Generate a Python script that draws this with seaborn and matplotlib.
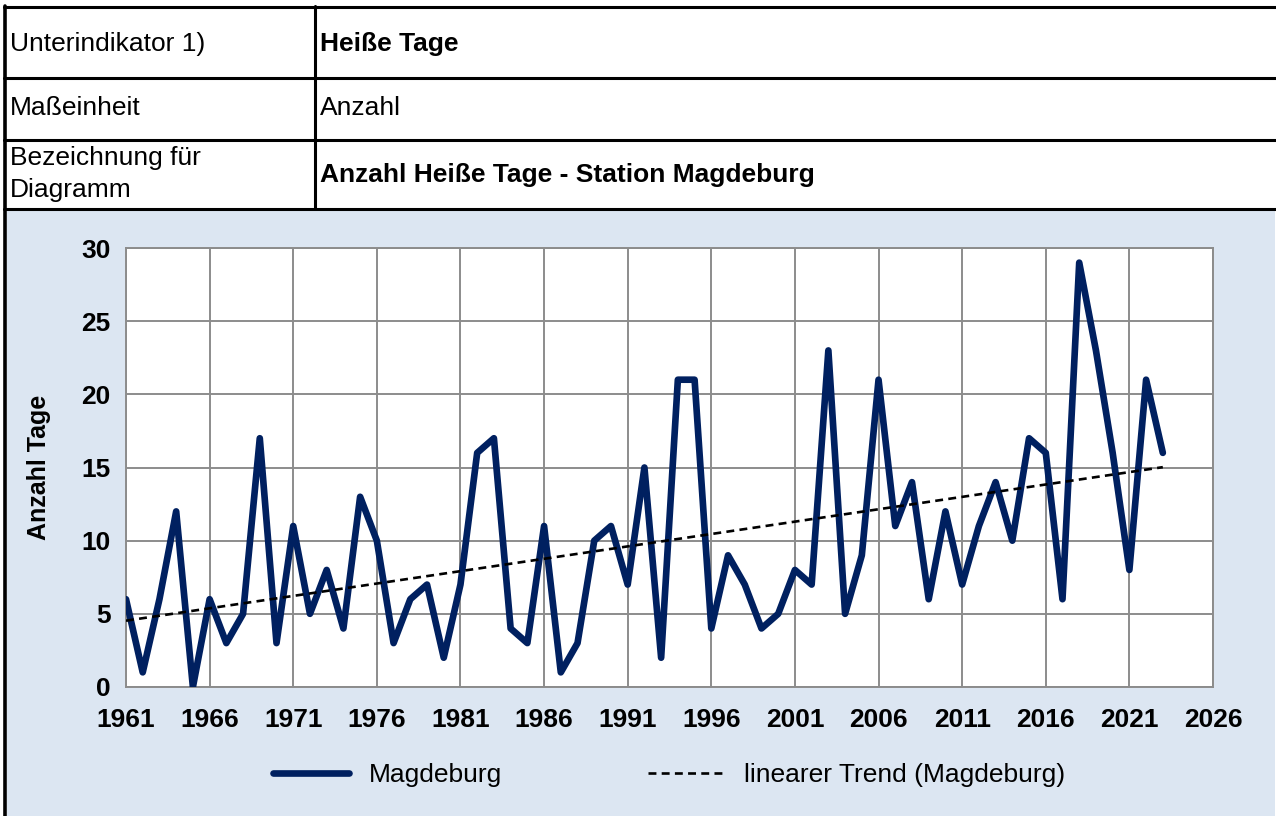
import numpy as np
import pandas as pd
import matplotlib
matplotlib.use("Agg")
import matplotlib.pyplot as plt
from matplotlib.patches import Rectangle
from matplotlib.lines import Line2D
from matplotlib.ticker import MultipleLocator
import seaborn as sns

# Anzahl heiße Tage, Station Magdeburg
years = list(range(1961, 2024))
hot_days = [6, 1, 6, 12, 0, 6, 3, 5, 17, 3,
            11, 5, 8, 4, 13, 10, 3, 6, 7, 2,
            7, 16, 17, 4, 3, 11, 1, 3, 10, 11,
            7, 15, 2, 21, 21, 4, 9, 7, 4, 5,
            8, 7, 23, 5, 9, 21, 11, 14, 6, 12,
            7, 11, 14, 10, 17, 16, 6, 29, 23, 16,
            8, 21, 16]

header_left = ["Unterindikator 1)", "Maßeinheit", "Bezeichnung für\nDiagramm"]
header_right = ["Heiße Tage", "Anzahl", "Anzahl Heiße Tage - Station Magdeburg"]
header_bold = [True, False, True]

df = pd.DataFrame({"Jahr": years, "Tage": hot_days})

sns.set_style("white")
plt.rcParams["font.family"] = ["Liberation Sans", "DejaVu Sans"]
plt.rcParams["text.color"] = "black"
plt.rcParams["xtick.labelcolor"] = "black"
plt.rcParams["ytick.labelcolor"] = "black"
plt.rcParams["axes.labelcolor"] = "black"

W, H = 1276, 816
fig = plt.figure(figsize=(W / 100, H / 100), dpi=100)
fig.patch.set_facecolor("white")


def fx(px):
    return px / W


def fy(py):
    return 1 - py / H


# light blue chart background
fig.patches.append(Rectangle((fx(7), 0), fx(W - 8), fy(209), transform=fig.transFigure,
                             facecolor="#dce6f2", edgecolor="none", zorder=-5))

# header table lines
for y in [7, 78, 140, 209]:
    fig.add_artist(Line2D([fx(4), 1], [fy(y), fy(y)], color="black", lw=2.2))
fig.add_artist(Line2D([fx(5), fx(5)], [0, fy(6)], color="black", lw=2.6))
fig.add_artist(Line2D([fx(315), fx(315)], [fy(209), fy(6)], color="black", lw=2.2))

row_y = [44, 108, 174]
for i in range(3):
    fig.text(fx(10), fy(row_y[i]), header_left[i], fontsize=19, va="center",
             ha="left", linespacing=1.4)
    fig.text(fx(320), fy(row_y[i] + (1 if i == 2 else 0)), header_right[i], fontsize=19,
             va="center", ha="left",
             fontweight="bold" if header_bold[i] else "normal")

# plot area
ax = fig.add_axes([fx(126), fy(687), fx(1213 - 126), (687 - 248) / H], zorder=2)
ax.set_facecolor("white")

sns.lineplot(data=df, x="Jahr", y="Tage", ax=ax, color="#002060", lw=4.8,
             label="Magdeburg", zorder=3)
sns.regplot(data=df, x="Jahr", y="Tage", ax=ax, scatter=False, ci=None, truncate=True,
            line_kws=dict(color="black", lw=1.9, ls=(0, (3, 2)), zorder=4),
            label="linearer Trend (Magdeburg)")

ax.set_xlim(1961, 2026)
ax.set_ylim(0, 30)
ax.xaxis.set_major_locator(MultipleLocator(5, offset=1))
ax.xaxis.set_minor_locator(MultipleLocator(1))
ax.yaxis.set_major_locator(MultipleLocator(5))
ax.grid(True, which="major", color="#8c8c8c", lw=1.4)
for s in ax.spines.values():
    s.set_color("#8c8c8c")
    s.set_linewidth(1.4)
ax.tick_params(axis="both", which="major", direction="out", length=6, width=1.4,
               color="#8c8c8c", labelsize=19)
ax.tick_params(axis="x", which="major", pad=9)
ax.tick_params(axis="y", which="major", pad=5)
ax.tick_params(axis="x", which="minor", direction="out", length=4, width=1.2,
               color="#8c8c8c")
for lab in ax.get_xticklabels() + ax.get_yticklabels():
    lab.set_fontweight("bold")
ax.set_xlabel("")
ax.set_ylabel("Anzahl Tage", fontsize=18, fontweight="bold", labelpad=22)

handles, labels = ax.get_legend_handles_labels()
if ax.get_legend():
    ax.get_legend().remove()
fig.legend(handles, labels, loc="center", bbox_to_anchor=(fx(669), fy(775)), ncol=2,
           frameon=False, fontsize=19, handlelength=2.9, handletextpad=0.75,
           columnspacing=5.5)

fig.savefig("out.png", dpi=100)
